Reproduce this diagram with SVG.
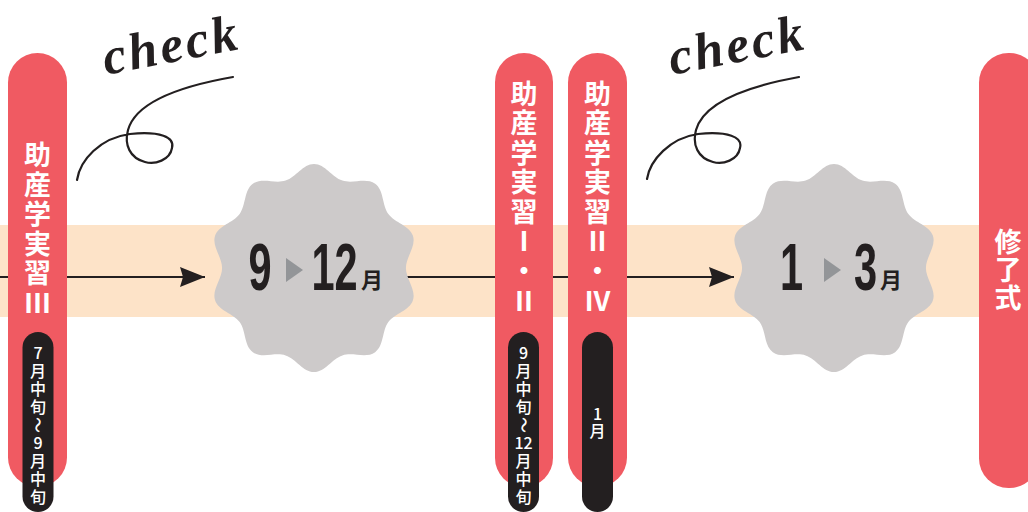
<svg xmlns="http://www.w3.org/2000/svg" width="1028" height="512" viewBox="0 0 1028 512">
<defs>
<style>
.pill{fill:#F05A62}
.blk{fill:#231F20}
.jp{font-family:"Noto Sans CJK JP","Noto Sans",sans-serif;fill:#fff;text-anchor:middle;font-weight:700;font-size:27px}
.jpm{font-family:"Noto Sans CJK JP","Noto Sans",sans-serif;fill:#fff;text-anchor:middle;font-weight:500;font-size:16px}
.big{font-family:"Liberation Sans",Arial,sans-serif;font-weight:700;font-size:67px;fill:#231F20;text-anchor:middle}
.mon{font-family:"Noto Sans CJK JP",sans-serif;font-weight:700;font-size:22px;fill:#231F20}
.tri{fill:#939598}
.badge{fill:#CDCACA}
.conn{stroke:#231F20;stroke-width:2;fill:none}
.check{font-family:"Liberation Serif",serif;font-style:italic;font-weight:700;font-size:52px;letter-spacing:3px;fill:#231F20}
.curl{stroke:#231F20;stroke-width:2.2;fill:none;stroke-linecap:round}
</style>
<marker id="arr" markerUnits="userSpaceOnUse" markerWidth="26" markerHeight="20" refX="25" refY="10" orient="auto">
<path d="M0,0 L25,10 L0,20 L3,10 Z" fill="#231F20"/>
</marker>
<path id="scallop" d="M0,-103 C11,-103 17.66,-89.95 28.12,-86.55 C38.58,-83.15 51.64,-89.8 60.54,-83.33 C69.44,-76.86 67.15,-62.39 73.62,-53.49 C80.09,-44.59 94.56,-42.29 97.96,-31.83 C101.36,-21.37 91,-11 91,0 C91,11 101.36,21.37 97.96,31.83 C94.56,42.29 80.09,44.59 73.62,53.49 C67.15,62.39 69.44,76.86 60.54,83.33 C51.64,89.8 38.58,83.15 28.12,86.55 C17.66,89.95 11,103 0,103 C-11,103 -17.66,89.95 -28.12,86.55 C-38.58,83.15 -51.64,89.8 -60.54,83.33 C-69.44,76.86 -67.15,62.39 -73.62,53.49 C-80.09,44.59 -94.56,42.29 -97.96,31.83 C-101.36,21.37 -91,11 -91,0 C-91,-11 -101.36,-21.37 -97.96,-31.83 C-94.56,-42.29 -80.09,-44.59 -73.62,-53.49 C-67.15,-62.39 -69.44,-76.86 -60.54,-83.33 C-51.64,-89.8 -38.58,-83.15 -28.12,-86.55 C-17.66,-89.95 -11,-103 0,-103 Z"/>
</defs>

<rect id="band" x="0" y="225" width="990" height="92" fill="#FDE3C8"/>

<g id="connectors">
<line class="conn" x1="0" y1="277" x2="205" y2="277" marker-end="url(#arr)"/>
<line class="conn" x1="405" y1="277" x2="734" y2="277" marker-end="url(#arr)"/>
</g>

<g id="check1">
<text class="check" transform="translate(106,75) rotate(-11)">check</text>
<path class="curl" d="M77,180 C80,160 100,138 130,134 C160,131 175,137 172,148 C170,160 155,165 145,162 C130,158 124,145 128,130 C135,105 170,88 233,77"/>
</g>
<g id="check2" transform="translate(568,0)">
<text class="check" transform="translate(104,75) rotate(-11)">check</text>
<path class="curl" d="M79,179 C82,160 102,138 130,134 C160,131 175,137 172,148 C170,160 155,165 145,162 C130,158 124,145 128,130 C135,105 170,88 231,77"/>
</g>

<g id="badge-sep-dec">
<use href="#scallop" class="badge" transform="translate(314,268) scale(1.01)"/>
<text class="big" transform="translate(260,290) scale(0.62,1)">9</text>
<polygon class="tri" points="286,258 303,270 286,282"/>
<text class="big" transform="translate(334.5,290) scale(0.62,1)">12</text>
<text class="mon" x="361" y="288">月</text>
</g>

<g id="badge-jan-mar">
<use href="#scallop" class="badge" transform="translate(834,268) scale(1.01)"/>
<text class="big" transform="translate(791.5,290) scale(0.62,1)">1</text>
<polygon class="tri" points="824,258 841,270 824,282"/>
<text class="big" transform="translate(865.5,290) scale(0.62,1)">3</text>
<text class="mon" x="880" y="288">月</text>
</g>

<g id="practicum-3">
<rect class="pill" x="8" y="53" width="59" height="434" rx="29.5"/>
<text class="jp" x="37.5" y="165">助</text>
<text class="jp" x="37.5" y="194.5">産</text>
<text class="jp" x="37.5" y="224">学</text>
<text class="jp" x="37.5" y="253.5">実</text>
<text class="jp" x="37.5" y="283">習</text>
<text class="jp" x="37.5" y="313">Ⅲ</text>
<rect class="blk" x="22.5" y="332" width="31" height="180" rx="15.5"/>
<text class="jpm" x="38" y="359">7</text>
<text class="jpm" x="38" y="377">月</text>
<text class="jpm" x="38" y="395">中</text>
<text class="jpm" x="38" y="413">旬</text>
<text class="jpm" x="38" y="431" transform="rotate(90 38 425)">～</text>
<text class="jpm" x="38" y="449">9</text>
<text class="jpm" x="38" y="467">月</text>
<text class="jpm" x="38" y="485">中</text>
<text class="jpm" x="38" y="503">旬</text>
</g>

<g id="practicum-1-2">
<rect class="pill" x="495" y="53" width="58" height="434" rx="29"/>
<text class="jp" x="524" y="103.5">助</text>
<text class="jp" x="524" y="133">産</text>
<text class="jp" x="524" y="162.5">学</text>
<text class="jp" x="524" y="192">実</text>
<text class="jp" x="524" y="221.5">習</text>
<text class="jp" x="524" y="251">Ⅰ</text>
<text class="jp" x="524" y="281">・</text>
<text class="jp" x="524" y="311">Ⅱ</text>
<rect class="blk" x="508" y="332" width="31" height="180" rx="15.5"/>
<text class="jpm" x="523.5" y="359">9</text>
<text class="jpm" x="523.5" y="377">月</text>
<text class="jpm" x="523.5" y="395">中</text>
<text class="jpm" x="523.5" y="413">旬</text>
<text class="jpm" x="523.5" y="431" transform="rotate(90 523.5 425)">～</text>
<text class="jpm" x="523.5" y="449">12</text>
<text class="jpm" x="523.5" y="467">月</text>
<text class="jpm" x="523.5" y="485">中</text>
<text class="jpm" x="523.5" y="503">旬</text>
</g>

<g id="practicum-2-4">
<rect class="pill" x="568" y="53" width="59" height="434" rx="29.5"/>
<text class="jp" x="597.5" y="103.5">助</text>
<text class="jp" x="597.5" y="133">産</text>
<text class="jp" x="597.5" y="162.5">学</text>
<text class="jp" x="597.5" y="192">実</text>
<text class="jp" x="597.5" y="221.5">習</text>
<text class="jp" x="597.5" y="251">Ⅱ</text>
<text class="jp" x="597.5" y="281">・</text>
<text class="jp" x="597.5" y="311">Ⅳ</text>
<rect class="blk" x="582" y="332" width="31" height="180" rx="15.5"/>
<text class="jpm" x="597.5" y="419.5">1</text>
<text class="jpm" x="597.5" y="437">月</text>
</g>

<g id="graduation">
<rect class="pill" x="979" y="53" width="60" height="435" rx="29.5"/>
<text class="jp" x="1008" y="252">修</text>
<text class="jp" x="1008" y="280">了</text>
<text class="jp" x="1008" y="308">式</text>
</g>
</svg>
